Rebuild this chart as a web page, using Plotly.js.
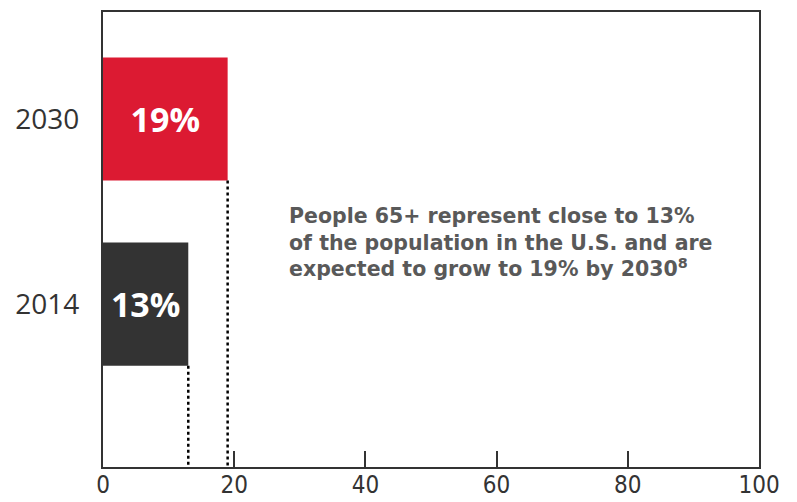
<!DOCTYPE html>
<html>
<head>
<meta charset="utf-8">
<script src="https://cdn.plot.ly/plotly-3.0.1.min.js"></script>
<style>html,body{margin:0;padding:0;background:#fff;}#chart{width:797px;height:502px;}</style>
</head>
<body>
<div id="chart"></div>
<script>
const years = ['2014', '2030'];
const shares = [13, 19];
const barLabels = ['13%', '19%'];
const barColors = ['#333333', '#DC1A32'];
const xTicks = [0, 20, 40, 60, 80, 100];
const noteText = 'People 65+ represent close to 13%<br>of the population in the U.S. and are<br>expected to grow to 19% by 2030<sup>8</sup>';

const yPos = years.map((_, i) => i);
const barWidth = 0.665;
const yMin = -0.88, yMax = 1.578;

const trace = {
  type: 'bar',
  orientation: 'h',
  x: shares,
  y: yPos,
  width: barWidth,
  marker: {color: barColors, line: {width: 0}},
  text: barLabels,
  textposition: 'inside',
  insidetextanchor: 'middle',
  textangle: 0,
  textfont: {family: 'Open Sans, sans-serif', size: 34, color: '#ffffff', weight: 700},
  hoverinfo: 'none',
  cliponaxis: false
};

const shapes = shares.map((v, i) => ({
  type: 'line', xref: 'x', yref: 'y',
  x0: v, x1: v, y0: yPos[i] - barWidth / 2, y1: yMin,
  line: {color: '#000000', width: 2.5, dash: '3px,3px'}
}));

const layout = {
  width: 797, height: 502,
  margin: {l: 103, r: 38, t: 12, b: 35},
  paper_bgcolor: '#ffffff', plot_bgcolor: '#ffffff',
  showlegend: false,
  xaxis: {
    range: [0, 100], tickvals: xTicks, ticktext: xTicks.map(String),
    ticks: 'inside', ticklen: 16, tickwidth: 2, tickcolor: '#333333',
    showgrid: false, zeroline: false,
    showline: true, linecolor: '#333333', linewidth: 2, mirror: true,
    ticklabelstandoff: -5,
    tickfont: {family: 'DejaVu Sans Condensed, Liberation Sans Narrow, sans-serif', size: 24, color: '#333333'},
    fixedrange: true
  },
  yaxis: {
    range: [yMin, yMax], tickvals: yPos, ticktext: years,
    ticks: '', showgrid: false, zeroline: false,
    showline: true, linecolor: '#333333', linewidth: 2, mirror: true,
    ticklabelstandoff: 16,
    tickfont: {family: 'Open Sans, sans-serif', size: 28, color: '#333333'},
    fixedrange: true
  },
  shapes: shapes,
  annotations: [{
    xref: 'x', yref: 'y', x: 28, y: 0.335,
    xanchor: 'left', yanchor: 'middle', align: 'left',
    text: noteText, showarrow: false,
    font: {family: 'DejaVu Sans, sans-serif', size: 20.5, color: '#595959', weight: 700}
  }]
};

Plotly.newPlot('chart', [trace], layout, {displayModeBar: false, staticPlot: true});
</script>
</body>
</html>
